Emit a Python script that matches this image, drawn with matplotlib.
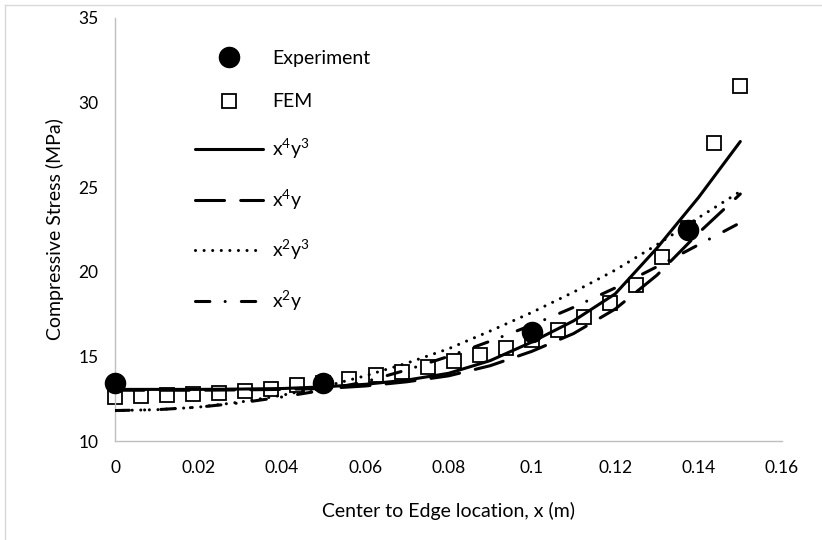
import matplotlib
matplotlib.use('Agg')
import matplotlib.pyplot as plt
from matplotlib.lines import Line2D

plt.rcParams['font.family'] = ['Lato', 'DejaVu Sans']

# experimental points
exp_x = [0, 0.05, 0.1, 0.1375]
exp_y = [13.45, 13.45, 16.45, 22.5]

# FEM results
fem_x = [0, 0.00625, 0.0125, 0.01875, 0.025, 0.03125, 0.0375, 0.04375, 0.05,
         0.05625, 0.0625, 0.06875, 0.075, 0.08125, 0.0875, 0.09375, 0.1,
         0.10625, 0.1125, 0.11875, 0.125, 0.13125, 0.1375, 0.14375, 0.15]
fem_y = [12.62, 12.65, 12.72, 12.78, 12.85, 12.97, 13.1, 13.3, 13.45,
         13.66, 13.9, 14.1, 14.35, 14.7, 15.08, 15.5, 15.95,
         16.56, 17.35, 18.15, 19.2, 20.9, 22.6, 27.6, 31.0]

fit_x = [0, 0.01, 0.02, 0.03, 0.04, 0.05, 0.06, 0.07, 0.08, 0.09, 0.1,
         0.11, 0.12, 0.13, 0.14, 0.15]
fit_x4y3 = [13.05, 13.05, 13.05, 13.07, 13.1, 13.2, 13.35, 13.6, 14.0, 14.75,
            15.85, 17.1, 18.7, 21.4, 24.4, 27.7]
fit_x4y = [13.0, 13.0, 13.0, 13.02, 13.05, 13.1, 13.25, 13.5, 13.85, 14.45,
           15.3, 16.35, 17.8, 19.8, 22.3, 24.6]
fit_x2y3 = [11.8, 11.85, 12.0, 12.3, 12.7, 13.2, 13.85, 14.6, 15.45, 16.5,
            17.6, 18.8, 20.1, 21.6, 23.2, 24.75]
fit_x2y = [11.8, 11.85, 12.0, 12.25, 12.6, 13.0, 13.5, 14.2, 15.0, 15.9,
           16.85, 17.9, 19.05, 20.3, 21.6, 22.9]

x_ticks = [0, 0.02, 0.04, 0.06, 0.08, 0.1, 0.12, 0.14, 0.16]
x_tick_labels = ['0', '0.02', '0.04', '0.06', '0.08', '0.1', '0.12', '0.14', '0.16']
y_ticks = [10, 15, 20, 25, 30, 35]

W, H = 822, 540
fig = plt.figure(figsize=(W / 100, H / 100), dpi=100)
ax = fig.add_axes([115 / W, 1 - 441 / H, 667 / W, 423 / H])

lw = 2.2
l1, = ax.plot(fit_x, fit_x4y3, color='black', lw=lw, solid_capstyle='round',
              label=r'$\mathregular{x^4y^3}$', zorder=3)
l2, = ax.plot(fit_x, fit_x4y, color='black', lw=lw, dash_capstyle='round',
              dashes=(9.5, 5.3), label=r'$\mathregular{x^4y}$', zorder=3)
l3, = ax.plot(fit_x, fit_x2y3, color='black', lw=lw, dash_capstyle='round',
              dashes=(0.01, 2.8), label=r'$\mathregular{x^2y^3}$', zorder=3)
l4, = ax.plot(fit_x, fit_x2y, color='black', lw=lw, dash_capstyle='round',
              dashes=(4.7, 5.0, 0.01, 5.3), label=r'$\mathregular{x^2y}$', zorder=3)

fem, = ax.plot(fem_x, fem_y, ls='none', marker='s', ms=9.4, mfc='white',
               mec='black', mew=1.3, zorder=2, label='FEM', clip_on=False)
exp, = ax.plot(exp_x, exp_y, ls='none', marker='o', ms=14.5, color='black',
               zorder=4, label='Experiment', clip_on=False)

ax.set_xlim(0, 0.16)
ax.set_ylim(10, 35)
ax.set_xticks(x_ticks)
ax.set_xticklabels(x_tick_labels)
ax.set_yticks(y_ticks)
ax.tick_params(length=0, labelsize=12.5, colors='black')
ax.tick_params(axis='x', pad=14)
ax.tick_params(axis='y', pad=12)

for s in ['top', 'right']:
    ax.spines[s].set_visible(False)
for s in ['left', 'bottom']:
    ax.spines[s].set_color('#bfbfbf')
    ax.spines[s].set_linewidth(1.0)

ax.set_xlabel('Center to Edge location, x (m)', fontsize=14, labelpad=18)
ax.set_ylabel('Compressive Stress (MPa)', fontsize=14, labelpad=10)

ax.legend(handles=[exp, fem, l1, l2, l3, l4], loc='upper left',
          bbox_to_anchor=(195 / W, 1 - 50 / H), bbox_transform=fig.transFigure,
          frameon=False, fontsize=14, handlelength=3.5, handletextpad=0.45,
          labelspacing=1.36, borderpad=0, borderaxespad=0, numpoints=1)

# light chart border (left and top edges visible)
fig.add_artist(Line2D([5 / W, 5 / W], [0, 1 - 5 / H], transform=fig.transFigure,
                      color='#d9d9d9', lw=1))
fig.add_artist(Line2D([5 / W, 1], [1 - 5 / H, 1 - 5 / H], transform=fig.transFigure,
                      color='#d9d9d9', lw=1))

fig.savefig('out.png', dpi=100)
